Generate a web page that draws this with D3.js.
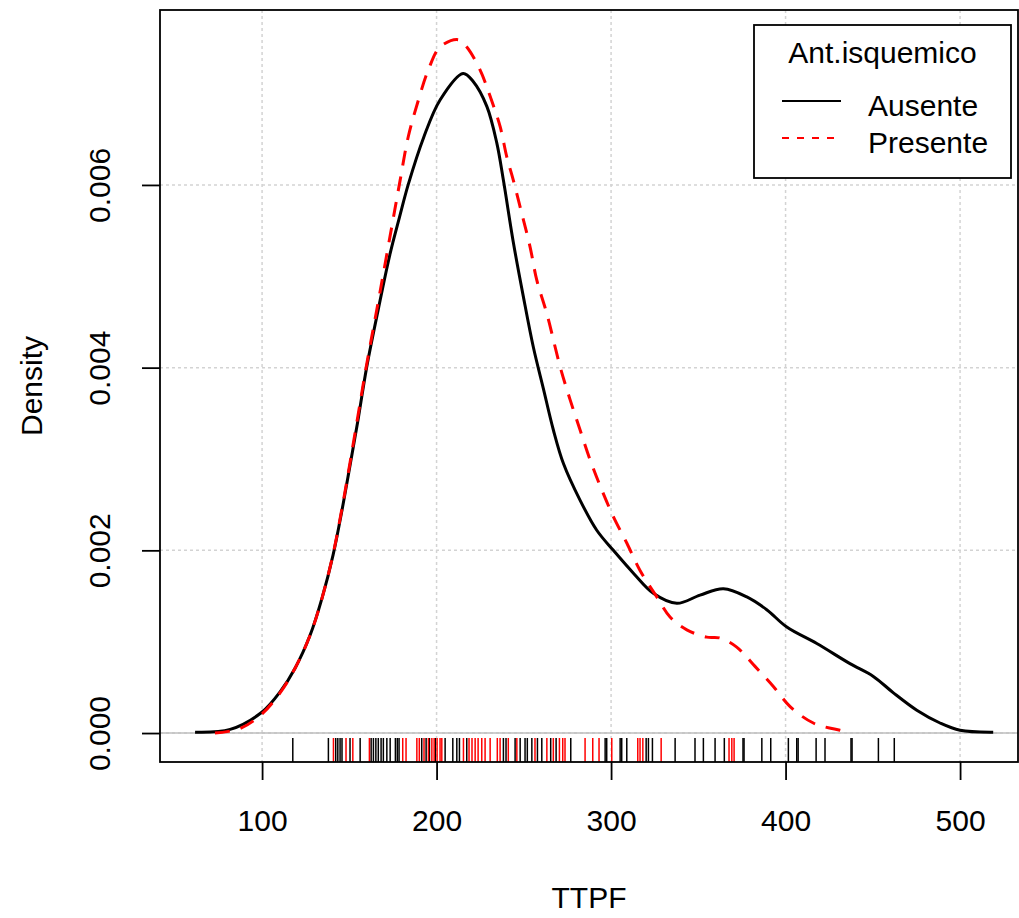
<!DOCTYPE html>
<html>
<head>
<meta charset="utf-8">
<script src="https://cdn.jsdelivr.net/npm/d3@7/dist/d3.min.js"></script>
<style>
  body { margin: 0; background: #fff; }
  text { font-family: "Liberation Sans", Arial, sans-serif; fill: #000; }
</style>
</head>
<body>
<div id="chart"></div>
<script>
// Density curve for Ausente (x = TTPF, y = density)
const ausenteX = [61.6, 81.7, 100, 110.3, 118.9, 127.5, 134.4, 140.7, 145.8, 150.4, 155, 159.9, 166.5, 173.4, 178.8, 183.7, 192.6, 202, 215.2, 221.1, 228.8, 234.5, 238.3, 244, 249.7, 255.5, 261.2, 266.9, 272.7, 282.2, 291.8, 301.3, 312.8, 324.2, 337.7, 351, 364.4, 377.8, 389.2, 400.7, 417.9, 436.9, 450.3, 461.8, 475.2, 488.5, 500, 519];
const ausenteY = [0.00001, 0.00004, 0.00023, 0.00045, 0.00071, 0.00107, 0.00148, 0.00195, 0.00244, 0.00293, 0.00343, 0.004, 0.00463, 0.00525, 0.00565, 0.006, 0.00652, 0.00693, 0.00722, 0.00713, 0.00686, 0.00646, 0.00605, 0.00537, 0.00478, 0.00422, 0.00377, 0.00332, 0.00295, 0.00255, 0.00222, 0.002, 0.00175, 0.00153, 0.00142, 0.00151, 0.00158, 0.00149, 0.00135, 0.00116, 0.00098, 0.00076, 0.00062, 0.00044, 0.00025, 0.00011, 0.00003, 0.00001];

// Density curve for Presente
const presenteX = [73, 87.4, 100, 110.3, 118.9, 127.5, 134.4, 140.7, 145.8, 150.4, 155, 159.6, 165.7, 169.5, 174.3, 179.1, 183.8, 189.6, 195.3, 202, 212.5, 217.3, 224.9, 230.7, 236.4, 240.2, 244, 248.8, 253.6, 257.4, 263.2, 270.8, 276.5, 282.2, 288, 294.7, 301.3, 309, 316.6, 326.2, 333.8, 343.4, 354.8, 362.5, 372, 382.5, 393, 402.6, 415.9, 431.2, 436];
const presenteY = [0, 0.00005, 0.00021, 0.00044, 0.00071, 0.00107, 0.00148, 0.00196, 0.00246, 0.00296, 0.00348, 0.004, 0.00463, 0.00503, 0.00554, 0.00605, 0.00653, 0.00693, 0.00726, 0.00751, 0.00759, 0.00751, 0.00726, 0.00697, 0.00664, 0.00631, 0.00605, 0.00569, 0.00532, 0.00496, 0.00459, 0.00401, 0.00365, 0.00332, 0.00299, 0.00266, 0.00237, 0.00208, 0.00178, 0.00149, 0.00127, 0.00113, 0.00105, 0.00104, 0.00094, 0.00073, 0.00051, 0.00029, 0.00011, 0.00003, 0.00001];

// Rug observations
const rugAusente = [117.6, 138.0, 142.2, 143.4, 144.7, 145.8, 150.4, 156.2, 162.5, 163.8, 165.2, 166.6, 168.2, 169.5, 171.5, 173.4, 176.4, 177.5, 178.5, 191.5, 194.0, 195.9, 199.3, 204.9, 209.3, 211.6, 213.1, 217.3, 238.3, 239.8, 245.0, 247.9, 250.7, 252.0, 254.6, 257.8, 260.3, 265.4, 268.5, 276.9, 296.6, 297.5, 305.2, 306.1, 309.0, 320.1, 321.4, 323.7, 336.7, 348.1, 352.9, 359.6, 364.9, 375.6, 376.2, 386.4, 391.5, 401.6, 406.4, 407.2, 417.5, 422.6, 437.5, 438.1, 453.2, 462.3];
const rugPresente = [140.9, 148.1, 152.0, 161.5, 180.6, 182.5, 188.7, 190.1, 192.8, 195.3, 197.3, 198.6, 200.3, 202.0, 203.0, 215.4, 218.6, 220.3, 222.1, 223.8, 225.9, 227.8, 230.7, 234.8, 236.4, 241.1, 246.0, 256.4, 263.2, 266.9, 270.4, 272.3, 273.6, 285.1, 289.5, 293.1, 300.4, 315.3, 316.6, 318.2, 328.7, 367.6, 369.2, 370.5];

const xTicks = [100, 200, 300, 400, 500];
const yTicks = [0, 0.002, 0.004, 0.006];
const groups = ["Ausente", "Presente"];

// Plot region
const margin = {top: 10, right: 1, bottom: 156, left: 160};
const width = 1019 - margin.left - margin.right;
const height = 918 - margin.top - margin.bottom;

const svg = d3.select("#chart").append("svg")
    .attr("width", 1019)
    .attr("height", 918)
    .append("g")
    .attr("transform", `translate(${margin.left},${margin.top})`);

const x = d3.scaleLinear().domain([41.5, 533.2]).range([0, width]);
const y = d3.scaleLinear().domain([-0.000317, 0.007915]).range([height, 0]);

// Dotted grid
svg.append("g").selectAll("line")
    .data(xTicks)
    .enter().append("line")
    .attr("x1", d => x(d)).attr("x2", d => x(d))
    .attr("y1", 0).attr("y2", height)
    .attr("stroke", "#d3d3d3")
    .attr("stroke-width", 1.5)
    .attr("stroke-dasharray", "3,3");

svg.append("g").selectAll("line")
    .data(yTicks)
    .enter().append("line")
    .attr("x1", 0).attr("x2", width)
    .attr("y1", d => y(d)).attr("y2", d => y(d))
    .attr("stroke", "#d3d3d3")
    .attr("stroke-width", 1.5)
    .attr("stroke-dasharray", "3,3");

// Zero line
svg.append("line")
    .attr("x1", 0).attr("x2", width)
    .attr("y1", y(0)).attr("y2", y(0))
    .attr("stroke", "#bebebe")
    .attr("stroke-width", 1.5);

// Rugs
const rugLen = 24;
svg.append("g").selectAll("line")
    .data(rugAusente)
    .enter().append("line")
    .attr("x1", d => x(d)).attr("x2", d => x(d))
    .attr("y1", height).attr("y2", height - rugLen)
    .attr("stroke", "#000")
    .attr("stroke-width", 1.5);

svg.append("g").selectAll("line")
    .data(rugPresente)
    .enter().append("line")
    .attr("x1", d => x(d)).attr("x2", d => x(d))
    .attr("y1", height).attr("y2", height - rugLen)
    .attr("stroke", "#ff0000")
    .attr("stroke-width", 1.5);

// Density lines
const line = d3.line()
    .x(d => x(d[0]))
    .y(d => y(d[1]))
    .curve(d3.curveCatmullRom.alpha(0.5));

svg.append("path")
    .datum(d3.zip(ausenteX, ausenteY))
    .attr("fill", "none")
    .attr("stroke", "#000")
    .attr("stroke-width", 3)
    .attr("d", line);

svg.append("path")
    .datum(d3.zip(presenteX, presenteY))
    .attr("fill", "none")
    .attr("stroke", "#ff0000")
    .attr("stroke-width", 3)
    .attr("stroke-dasharray", "15,11")
    .attr("d", line);

// Box
svg.append("rect")
    .attr("width", width).attr("height", height)
    .attr("fill", "none")
    .attr("stroke", "#000")
    .attr("stroke-width", 1.8);

// X axis
const xAxis = svg.append("g")
    .attr("transform", `translate(0,${height})`)
    .call(d3.axisBottom(x).tickValues(xTicks).tickSize(18).tickSizeOuter(0));
xAxis.select(".domain").remove();
xAxis.selectAll(".tick line").attr("stroke", "#000").attr("stroke-width", 1.8);
xAxis.selectAll("text")
    .attr("y", 69).attr("dy", null)
    .style("font-size", "30px");

// Y axis
const yAxis = svg.append("g")
    .call(d3.axisLeft(y).tickValues(yTicks).tickSize(18).tickFormat(d3.format(".3f")));
yAxis.select(".domain").remove();
yAxis.selectAll(".tick line").attr("stroke", "#000").attr("stroke-width", 1.8);
yAxis.selectAll("text")
    .attr("transform", "rotate(-90)")
    .attr("x", 0).attr("y", -50).attr("dy", null)
    .style("text-anchor", "middle")
    .style("font-size", "30px");

// Axis titles
svg.append("text")
    .attr("x", width / 2)
    .attr("y", 898)
    .style("text-anchor", "middle")
    .style("font-size", "30px")
    .text("TTPF");

svg.append("text")
    .attr("transform", `translate(${42 - margin.left},${height / 2}) rotate(-90)`)
    .style("text-anchor", "middle")
    .style("font-size", "30px")
    .text("Density");

// Legend
const legend = svg.append("g")
    .attr("transform", `translate(${754 - margin.left},${25 - margin.top})`);

legend.append("rect")
    .attr("width", 257).attr("height", 153)
    .attr("fill", "#fff")
    .attr("stroke", "#000")
    .attr("stroke-width", 1.8);

legend.append("text")
    .attr("x", 128.5).attr("y", 38)
    .style("text-anchor", "middle")
    .style("font-size", "30px")
    .text("Ant.isquemico");

const legendStyle = {Ausente: {color: "#000", dash: null}, Presente: {color: "#ff0000", dash: "7,8"}};

groups.forEach((g, i) => {
    const ly = 76 + i * 37;
    legend.append("line")
        .attr("x1", 28).attr("x2", 87)
        .attr("y1", ly).attr("y2", ly)
        .attr("stroke", legendStyle[g].color)
        .attr("stroke-width", 1.8)
        .attr("stroke-dasharray", legendStyle[g].dash);
    legend.append("text")
        .attr("x", 114).attr("y", ly + 15)
        .style("font-size", "30px")
        .text(g);
});
</script>
</body>
</html>
